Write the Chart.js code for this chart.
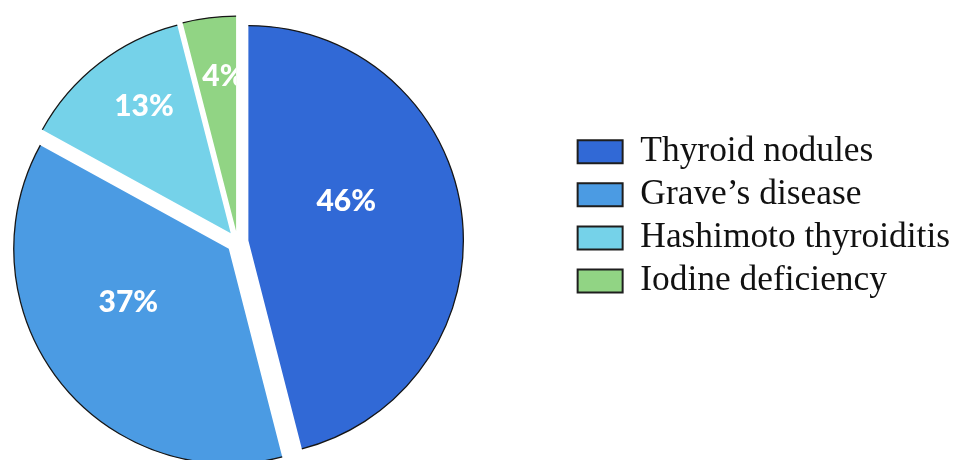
<!DOCTYPE html>
<html>
<head>
<meta charset="utf-8">
<script src="https://cdn.jsdelivr.net/npm/chart.js@4"></script>
<style>
  html, body { margin: 0; padding: 0; background: #fff; overflow: hidden; width: 958px; height: 460px; }
  #wrap { position: absolute; left: -95px; top: 0; width: 1055px; height: 460px; }
</style>
</head>
<body>
<div id="wrap"><canvas id="c"></canvas></div>
<script>
const categories = ['Thyroid nodules', 'Grave\u2019s disease', 'Hashimoto thyroiditis', 'Iodine deficiency'];
const shares = [46, 37, 13, 4];
const sliceColors = ['#3169d6', '#4b9be3', '#75d2e9', '#91d484'];

// where each percentage sits inside its slice: share of the radius,
// and a turn (degrees, clockwise) away from the slice's middle direction
const labelRadius = [0.49, 0.53, 0.716, 0.72];
const labelTurn = [-14.5, 9.6, 3.5, 2.5];

const EXPLODE = 11;   // px every slice is pulled away from the centre
const RADIUS = 215;

// Arc that is drawn pulled out along its bisector, with a dark rim on the curved edge
class ExplodedArc extends Chart.ArcElement {
  static id = 'explodedArc';
  shift() {
    const mid = (this.startAngle + this.endAngle) / 2;
    return { dx: Math.cos(mid) * EXPLODE, dy: Math.sin(mid) * EXPLODE };
  }
  draw(ctx) {
    const { dx, dy } = this.shift();
    ctx.save();
    ctx.translate(dx, dy);
    super.draw(ctx);
    ctx.beginPath();
    ctx.arc(this.x, this.y, this.outerRadius, this.startAngle, this.endAngle);
    ctx.lineWidth = 1.3;
    ctx.strokeStyle = '#161616';
    ctx.stroke();
    ctx.restore();
  }
}
Chart.register(ExplodedArc);
Chart.defaults.datasets.pie.dataElementType = 'explodedArc';

// White percentage labels, clipped to their own slice
const sliceLabels = {
  id: 'sliceLabels',
  afterDatasetsDraw(chart) {
    const ctx = chart.ctx;
    const meta = chart.getDatasetMeta(0);
    meta.data.forEach((arc, i) => {
      const { dx, dy } = arc.shift();
      const cx = arc.x + dx, cy = arc.y + dy;
      const dir = (arc.startAngle + arc.endAngle) / 2 + labelTurn[i] * Math.PI / 180;
      const r = arc.outerRadius * labelRadius[i];
      ctx.save();
      ctx.beginPath();
      ctx.moveTo(cx, cy);
      ctx.arc(cx, cy, arc.outerRadius, arc.startAngle, arc.endAngle);
      ctx.closePath();
      ctx.clip();
      ctx.font = '900 30px Lato, "Open Sans", sans-serif';
      ctx.fillStyle = '#ffffff';
      ctx.textAlign = 'center';
      ctx.textBaseline = 'middle';
      ctx.fillText(shares[i] + '%', cx + Math.cos(dir) * r, cy + Math.sin(dir) * r);
      ctx.restore();
    });
  }
};

const baseLegendLabels = Chart.PieController.overrides.plugins.legend.labels.generateLabels;

new Chart(document.getElementById('c'), {
  type: 'pie',
  data: {
    labels: categories,
    datasets: [{
      data: shares,
      backgroundColor: sliceColors,
      borderWidth: 0,
      radius: RADIUS
    }]
  },
  options: {
    responsive: true,
    maintainAspectRatio: false,
    animation: false,
    events: [],
    layout: { padding: { left: 0, right: 0, top: 126.3, bottom: 102.3 } },
    plugins: {
      tooltip: { enabled: false },
      legend: {
        position: 'right',
        align: 'start',
        labels: {
          boxWidth: 45,
          boxHeight: 23,
          padding: 7.7,
          color: '#111111',
          font: { family: '"Liberation Serif", "Times New Roman", serif', size: 35.4, lineHeight: 1 },
          generateLabels(chart) {
            return baseLegendLabels(chart).map(item => ({ ...item, strokeStyle: '#1e1e1e', lineWidth: 2 }));
          }
        }
      }
    }
  },
  plugins: [sliceLabels]
});
</script>
</body>
</html>
